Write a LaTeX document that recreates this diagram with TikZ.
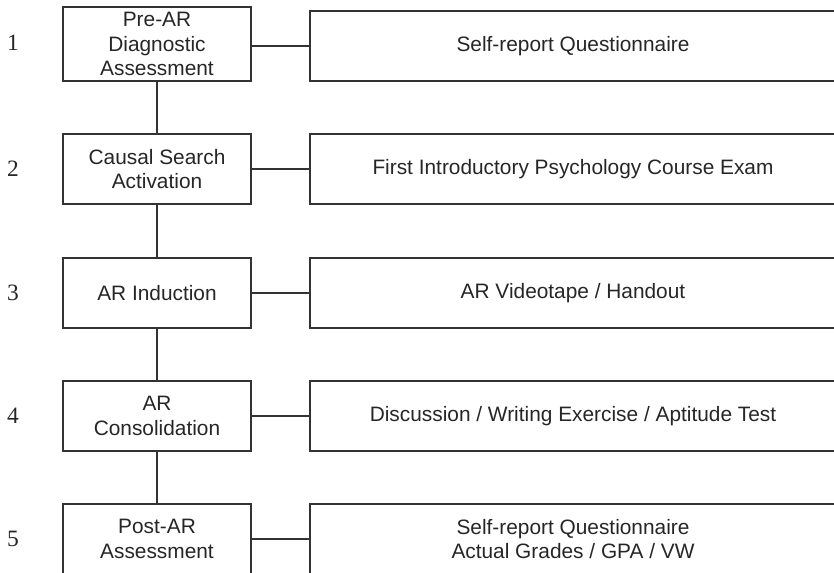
\documentclass[tikz,border=0pt]{standalone}
\usepackage{fontspec}
\setmainfont{Liberation Sans}
\newfontfamily\stepfont{Liberation Serif}

\begin{document}
\begin{tikzpicture}[x=0.03cm,y=-0.03cm,
  stage/.style={draw=black!80,line width=0.9pt,minimum width=5.64cm,minimum height=2.1cm,
    inner sep=0pt,align=center,text=black!85,font=\fontsize{17.8}{21}\selectfont},
  measure/.style={stage,minimum width=15.78cm},
  stepno/.style={text=black!85,font=\stepfont\fontsize{20}{24}\selectfont}]
  \useasboundingbox (0,0) rectangle (834,573);
  \clip (0,0) rectangle (834,573);
  % stages
  \node[stage,minimum height=2.22cm] (s1) at (157,44) {Pre-AR\\Diagnostic\\Assessment};
  \node[stage] (s2) at (157,169) {Causal Search\\Activation};
  \node[stage] (s3) at (157,293) {AR Induction};
  \node[stage] (s4) at (157,416) {AR\\Consolidation};
  \node[stage] (s5) at (157,539) {Post-AR\\Assessment};
  % measures
  \node[measure] (m1) at (573,46) {Self-report Questionnaire};
  \node[measure] (m2) at (573,169) {First Introductory Psychology Course Exam};
  \node[measure] (m3) at (573,293) {AR Videotape / Handout};
  \node[measure] (m4) at (573,416) {Discussion / Writing Exercise / Aptitude Test};
  \node[measure] (m5) at (573,539) {Self-report Questionnaire\\Actual Grades / GPA / VW};
  % step numbers
  \foreach \i/\y in {1/43,2/169,3/293,4/416,5/539}
    \node[stepno] (n\i) at (13,\y) {\i};
  \begin{scope}[draw=black!80,line width=0.9pt]
    \foreach \i in {1,...,5}
      \draw (m\i.west) -- (m\i.west -| s\i.east);
    \foreach \i/\j in {1/2,2/3,3/4,4/5}
      \draw (s\i) -- (s\j);
  \end{scope}
\end{tikzpicture}
\end{document}
